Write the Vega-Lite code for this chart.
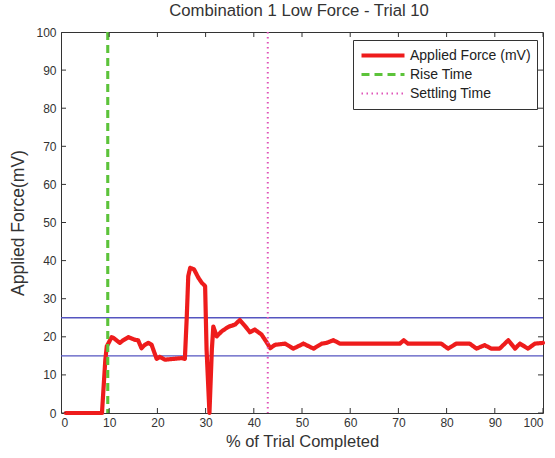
{
  "$schema": "https://vega.github.io/schema/vega-lite/v6.json",
  "width": 482,
  "height": 381,
  "autosize": {"type": "none"},
  "padding": {"left": 61, "top": 32, "right": 12, "bottom": 45},
  "background": "white",
  "title": {"text": "Combination 1 Low Force - Trial 10", "fontSize": 16.7, "fontWeight": "normal", "color": "#333333", "offset": 6, "dx": -3, "anchor": "middle", "font": "Liberation Sans"},
  "config": {
    "font": "Liberation Sans",
    "view": {"stroke": "#333333", "strokeWidth": 1},
    "axis": {"domain": false, "grid": false, "ticks": false, "labelColor": "#333333", "labelFontSize": 12, "titleFontSize": 16.5, "titleFontWeight": "normal", "titleColor": "#333333", "labelFont": "Liberation Sans", "titleFont": "Liberation Sans"},
    "legend": {"orient": "none", "legendX": 292, "legendY": 8, "title": null, "strokeColor": "#333333", "fillColor": "white", "padding": 6, "symbolType": "stroke", "symbolSize": 1849, "clipHeight": 19, "rowPadding": 0, "labelFontSize": 14, "labelColor": "#222222", "labelOffset": 3, "labelFont": "Liberation Sans", "zindex": 2}
  },
  "datasets": {
    "force": [
      {"x": 1, "y": 0}, {"x": 8.5, "y": 0}, {"x": 8.9, "y": 8}, {"x": 9.2, "y": 14}, {"x": 9.5, "y": 17.5},
      {"x": 10.5, "y": 19.9}, {"x": 10.9, "y": 19.7}, {"x": 12.2, "y": 18.4}, {"x": 12.9, "y": 19.1}, {"x": 14.0, "y": 19.9},
      {"x": 15.35, "y": 19.2}, {"x": 16.0, "y": 19.1}, {"x": 16.7, "y": 17.0}, {"x": 17.4, "y": 17.9}, {"x": 18.1, "y": 18.4},
      {"x": 18.8, "y": 17.9}, {"x": 19.3, "y": 16.1}, {"x": 19.85, "y": 14.2}, {"x": 20.5, "y": 14.7}, {"x": 21.6, "y": 14.0},
      {"x": 25.0, "y": 14.4}, {"x": 25.7, "y": 14.2}, {"x": 26.1, "y": 25.4}, {"x": 26.4, "y": 35.9}, {"x": 26.8, "y": 38.1},
      {"x": 27.6, "y": 37.7}, {"x": 28.5, "y": 35.5}, {"x": 29.2, "y": 34.2}, {"x": 29.9, "y": 33.3}, {"x": 30.2, "y": 16.7},
      {"x": 30.8, "y": 0}, {"x": 31.3, "y": 16.7}, {"x": 31.6, "y": 22.7}, {"x": 32.3, "y": 20.1}, {"x": 33.3, "y": 21.4},
      {"x": 34.7, "y": 22.6}, {"x": 36.1, "y": 23.2}, {"x": 37.1, "y": 24.4}, {"x": 38.2, "y": 22.8}, {"x": 39.2, "y": 21.2},
      {"x": 40.2, "y": 21.9}, {"x": 41.6, "y": 20.6}, {"x": 42.7, "y": 18.5}, {"x": 43.4, "y": 17.0}, {"x": 44.4, "y": 17.9},
      {"x": 46.5, "y": 18.2}, {"x": 48.2, "y": 16.9}, {"x": 50.3, "y": 18.2}, {"x": 52.4, "y": 16.9}, {"x": 54.1, "y": 18.2},
      {"x": 55.1, "y": 18.4}, {"x": 56.5, "y": 19.1}, {"x": 57.9, "y": 18.2}, {"x": 70.3, "y": 18.2}, {"x": 71.1, "y": 19.1},
      {"x": 72.0, "y": 18.2}, {"x": 78.9, "y": 18.2}, {"x": 80.3, "y": 16.9}, {"x": 82.0, "y": 18.2}, {"x": 84.8, "y": 18.2},
      {"x": 86.2, "y": 16.9}, {"x": 87.9, "y": 17.8}, {"x": 89.3, "y": 16.9}, {"x": 91.0, "y": 16.9}, {"x": 92.8, "y": 19.1},
      {"x": 94.2, "y": 16.9}, {"x": 95.2, "y": 18.2}, {"x": 96.9, "y": 16.9}, {"x": 98.3, "y": 18.2}, {"x": 100, "y": 18.4}
    ],
    "vlines": [
      {"series": "Rise Time", "x": 9.7},
      {"series": "Settling Time", "x": 42.9}
    ],
    "hlines": [
      {"y": 15}, {"y": 25}
    ],
    "ticks": [
      {"v": 0}, {"v": 10}, {"v": 20}, {"v": 30}, {"v": 40}, {"v": 50}, {"v": 60}, {"v": 70}, {"v": 80}, {"v": 90}, {"v": 100}
    ]
  },
  "layer": [
    {
      "data": {"name": "hlines"},
      "mark": {"type": "rule", "color": "#5555c0", "strokeWidth": 1.3},
      "encoding": {
        "y": {"field": "y", "type": "quantitative", "scale": {"domain": [0, 100], "nice": false}, "axis": null}
      }
    },
    {
      "data": {"name": "force"},
      "transform": [{"calculate": "'Applied Force (mV)'", "as": "series"}],
      "mark": {"type": "line", "strokeJoin": "round", "strokeCap": "round"},
      "encoding": {
        "x": {"field": "x", "type": "quantitative", "scale": {"domain": [0, 100], "nice": false}, "axis": {"orient": "bottom", "title": "% of Trial Completed", "values": [0,10,20,30,40,50,60,70,80,90,100], "labelPadding": 4, "titlePadding": 5}},
        "y": {"field": "y", "type": "quantitative", "axis": {"orient": "left", "title": "Applied Force(mV)", "titleFontSize": 17.5, "values": [0,10,20,30,40,50,60,70,80,90,100], "labelPadding": 5, "titlePadding": 8}},
        "color": {"field": "series", "type": "nominal", "scale": {"domain": ["Applied Force (mV)", "Rise Time", "Settling Time"], "range": ["#ee1c1c", "#5cc33a", "#e055b8"]}},
        "strokeDash": {"field": "series", "type": "nominal", "scale": {"domain": ["Applied Force (mV)", "Rise Time", "Settling Time"], "range": [[1, 0], [8, 5], [1.5, 3.5]]}},
        "strokeWidth": {"field": "series", "type": "nominal", "scale": {"domain": ["Applied Force (mV)", "Rise Time", "Settling Time"], "range": [4.2, 2, 1.8]}}
      }
    },
    {
      "data": {"name": "vlines"},
      "mark": {"type": "rule"},
      "encoding": {
        "x": {"field": "x", "type": "quantitative", "axis": null},
        "color": {"field": "series", "type": "nominal"},
        "strokeDash": {"field": "series", "type": "nominal"},
        "strokeWidth": {"field": "series", "type": "nominal"}
      }
    },
    {
      "data": {"name": "ticks"},
      "mark": {"type": "tick", "orient": "vertical", "clip": true, "size": 10, "thickness": 1, "color": "#333333", "opacity": 1},
      "encoding": {"x": {"field": "v", "type": "quantitative", "axis": null}, "y": {"datum": 0, "type": "quantitative", "axis": null}}
    },
    {
      "data": {"name": "ticks"},
      "mark": {"type": "tick", "orient": "vertical", "clip": true, "size": 10, "thickness": 1, "color": "#333333", "opacity": 1},
      "encoding": {"x": {"field": "v", "type": "quantitative", "axis": null}, "y": {"datum": 100, "type": "quantitative", "axis": null}}
    },
    {
      "data": {"name": "ticks"},
      "mark": {"type": "tick", "orient": "horizontal", "clip": true, "size": 10, "thickness": 1, "color": "#333333", "opacity": 1},
      "encoding": {"y": {"field": "v", "type": "quantitative", "axis": null}, "x": {"datum": 0, "type": "quantitative", "axis": null}}
    },
    {
      "data": {"name": "ticks"},
      "mark": {"type": "tick", "orient": "horizontal", "clip": true, "size": 10, "thickness": 1, "color": "#333333", "opacity": 1},
      "encoding": {"y": {"field": "v", "type": "quantitative", "axis": null}, "x": {"datum": 100, "type": "quantitative", "axis": null}}
    }
  ],
  "resolve": {"axis": {"x": "independent", "y": "independent"}}
}
